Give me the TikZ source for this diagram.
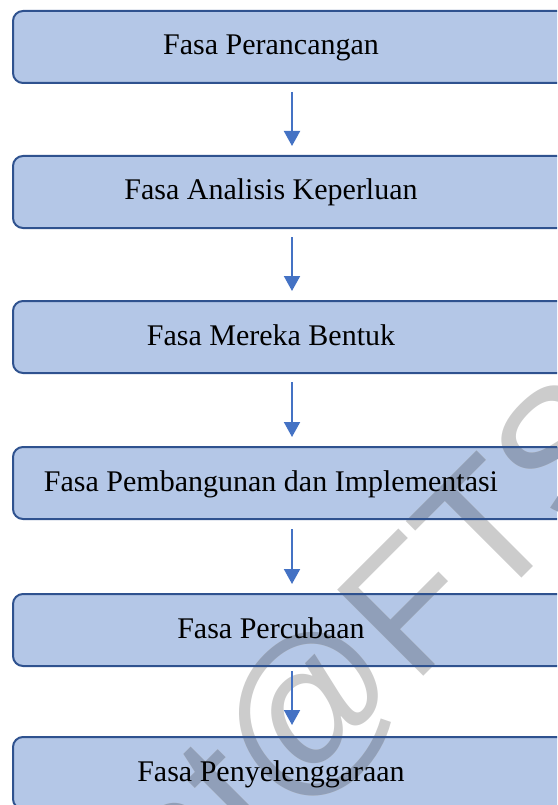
\documentclass[tikz,border=0pt]{standalone}
\usepackage{fontspec}
\setmainfont{Liberation Serif}
\newfontfamily\wmfont{Liberation Sans}
\usetikzlibrary{arrows.meta}
\definecolor{boxfill}{HTML}{B4C7E7}
\definecolor{boxborder}{HTML}{2F528F}
\definecolor{arrowblue}{HTML}{4472C4}
\definecolor{wmgray}{HTML}{CCCCCC}
\definecolor{wmdark}{HTML}{909FB9}
\begin{document}
\begin{tikzpicture}[x=1pt,y=-1pt,
  boxfillst/.style={rectangle, fill=boxfill, rounded corners=10pt, minimum width=558pt, minimum height=72pt, inner sep=0pt, outer sep=0pt, anchor=north west},
  boxedge/.style={draw=boxborder, line width=2pt, rounded corners=10pt},
  lbl/.style={anchor=base, inner sep=0pt, font=\fontsize{30}{36}\selectfont},
  arr/.style={draw=arrowblue, line width=2pt, -{Triangle[length=15pt,width=16pt]}},
  wm/.style={inner sep=0pt, outer sep=0pt, rotate=45, font=\wmfont\fontsize{177}{177}\selectfont}
]
\useasboundingbox (0,0) rectangle (557,805);
\clip (0,0) rectangle (557,805);
% box fills
\node[boxfillst] (b1) at (13,11) {};
\node[boxfillst] (b2) at (13,156) {};
\node[boxfillst] (b3) at (13,301) {};
\node[boxfillst] (b4) at (13,447) {};
\node[boxfillst] (b5) at (13,594) {};
\node[boxfillst] (b6) at (13,737) {};
% watermark
\node[wm, anchor=base west, text=wmgray] (wma) at (286,814) {@FTS};
\node[wm, anchor=base east, text=wmgray] (wmb) at (286,814) {at};
\begin{scope}
\clip[rounded corners=10pt] (b1.north west) rectangle (b1.south east)
  (b2.north west) rectangle (b2.south east)
  (b3.north west) rectangle (b3.south east)
  (b4.north west) rectangle (b4.south east)
  (b5.north west) rectangle (b5.south east)
  (b6.north west) rectangle (b6.south east);
\node[wm, anchor=base west, text=wmdark] (wmc) at (286,814) {@FTS};
\node[wm, anchor=base east, text=wmdark] (wmd) at (286,814) {at};
\end{scope}
% borders
\foreach \b in {b1,b2,b3,b4,b5,b6} \draw[boxedge] (\b.north west) rectangle (\b.south east);
% labels
\node[lbl] (t1) at (271,55) {Fasa Perancangan};
\node[lbl] (t2) at (271,200) {Fasa Analisis Keperluan};
\node[lbl] (t3) at (271,345) {Fasa Mereka Bentuk};
\node[lbl] (t4) at (271,491) {Fasa Pembangunan dan Implementasi};
\node[lbl] (t5) at (271,638) {Fasa Percubaan};
\node[lbl] (t6) at (271,781) {Fasa Penyelenggaraan};
% arrows
\draw[arr, shorten <=9pt, shorten >=10pt] (b1.south) -- (b2.north);
\draw[arr, shorten <=9pt, shorten >=10pt] (b2.south) -- (b3.north);
\draw[arr, shorten <=9pt, shorten >=10pt] (b3.south) -- (b4.north);
\draw[arr, shorten <=10pt, shorten >=10pt] (b4.south) -- (b5.north);
\draw[arr, shorten <=5pt, shorten >=12pt] (b5.south) -- (b6.north);
\end{tikzpicture}
\end{document}
